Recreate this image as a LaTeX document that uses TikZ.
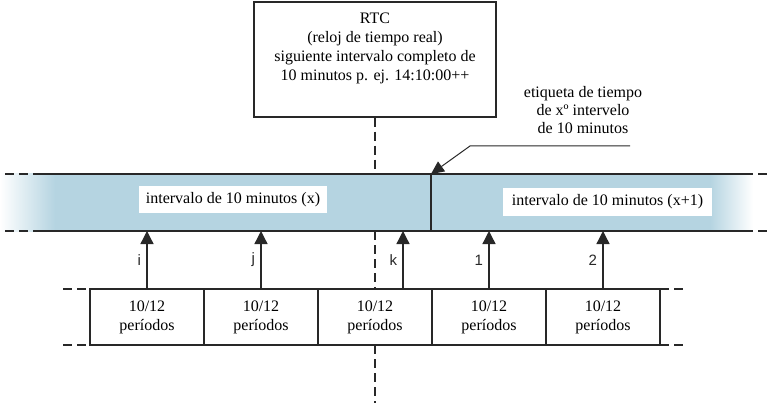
\documentclass[tikz,border=0pt]{standalone}
\usepackage{fontspec}
\setmainfont{Liberation Serif}
\setsansfont{Liberation Sans}
\usetikzlibrary{arrows.meta,positioning,calc}
\definecolor{bandBlue}{RGB}{181,212,225}
\definecolor{lineGray}{RGB}{40,40,40}
\tikzset{
  frame/.style={draw=lineGray, line width=1.5pt, minimum width=242pt, minimum height=115pt, inner sep=0pt},
  period/.style={draw=lineGray, line width=1.4pt, minimum width=114pt, minimum height=56pt, inner sep=0pt, outer sep=0pt, align=center, font=\fontsize{16}{19}\selectfont},
  tag/.style={fill=white, inner xsep=7pt, minimum height=27pt, font=\fontsize{16}{19}\selectfont},
  note/.style={align=center, font=\fontsize{16}{18}\selectfont},
  arrow/.style={-{Triangle[length=13pt,width=13pt]}, line width=1.3pt, color=lineGray},
  leader/.style={-{Triangle[length=13pt,width=12pt]}, line width=1pt, color=lineGray},
  edge/.style={line width=1.5pt, color=lineGray},
  guide/.style={line width=1.4pt, color=lineGray, dash pattern=on 9pt off 5pt},
  idx/.style={font=\sffamily\fontsize{15}{17}\selectfont, color=lineGray}
}

\begin{document}
\begin{tikzpicture}[x=1pt, y=-1pt]
  \useasboundingbox (0,0) rectangle (767,403);

  % band of the 10 minute intervals
  \coordinate (bt) at (0,174);
  \coordinate (bb) at (0,231);
  \fill[bandBlue] (55,174) rectangle (710,231);
  \shade[left color=white, right color=bandBlue] (0,174) rectangle (55,231);
  \shade[left color=bandBlue, right color=white] (710,174) rectangle (753,231);
  \draw[guide] (5,174) -- (30,174);
  \draw[guide] (5,231) -- (30,231);
  \draw[edge] (33,174) -- (753,174);
  \draw[edge] (33,231) -- (753,231);
  \draw[guide] (758,174) -- (767,174);
  \draw[guide] (758,231) -- (767,231);
  \coordinate (cut) at (431,174);
  \draw[line width=1.7pt, lineGray] (cut) -- (cut |- bb);

  \node[tag] (ix) at (233,199.5) {intervalo de 10 minutos (x)};
  \node[tag, inner xsep=8.5pt] (ix1) at (607.5,202) {intervalo de 10 minutos (x+1)};

  % RTC box
  \node[frame] (rtc) at (375,59.5) {};
  \node[align=center, font=\fontsize{16}{19}\selectfont] (rtctext) at (375,48.5)
    {RTC\\(reloj de tiempo real)\\siguiente intervalo completo de\\10 minutos p. ej. 14:10:00++};

  % time stamp label
  \node[note] (stamp) at (583,110) {etiqueta de tiempo\\de xº intervelo\\de 10 minutos};
  \coordinate (leadend) at (630,146);
  \coordinate (leadknee) at (470,146);
  \draw[leader] (leadend) -- (leadknee) -- (cut);

  % periods
  \node[period] (p1) at (147,317) {10/12\\períodos};
  \node[period, right=0pt of p1] (p2) {10/12\\períodos};
  \node[period, right=0pt of p2] (p3) {10/12\\períodos};
  \node[period, right=0pt of p3] (p4) {10/12\\períodos};
  \node[period, right=0pt of p4] (p5) {10/12\\períodos};
  \draw[guide] (63,289) -- (p1.north west);
  \draw[guide] (63,345) -- (p1.south west);
  \draw[guide] (p5.north east) -- (683,289);
  \draw[guide] (p5.south east) -- (683,345);

  % centre line
  \coordinate (foot) at (375,403);
  \draw[guide] (rtc.south) -- (rtc.south |- bt);
  \draw[guide] (rtc.south |- bb) -- (p3.north);
  \draw[guide] (p3.south) -- (foot);

  % period arrows
  \coordinate (kfoot) at ($(p3.north)+(28,0)$);
  \draw[arrow] (p1.north) -- (p1.north |- bb) node[midway, left=2pt, idx] (li) {i};
  \draw[arrow] (p2.north) -- (p2.north |- bb) node[midway, left=2pt, idx] (lj) {j};
  \draw[arrow] (kfoot) -- (kfoot |- bb) node[midway, left=2pt, idx] (lk) {k};
  \draw[arrow] (p4.north) -- (p4.north |- bb) node[midway, left=2pt, idx] (l1) {1};
  \draw[arrow] (p5.north) -- (p5.north |- bb) node[midway, left=2pt, idx] (l2) {2};
\end{tikzpicture}
\end{document}
